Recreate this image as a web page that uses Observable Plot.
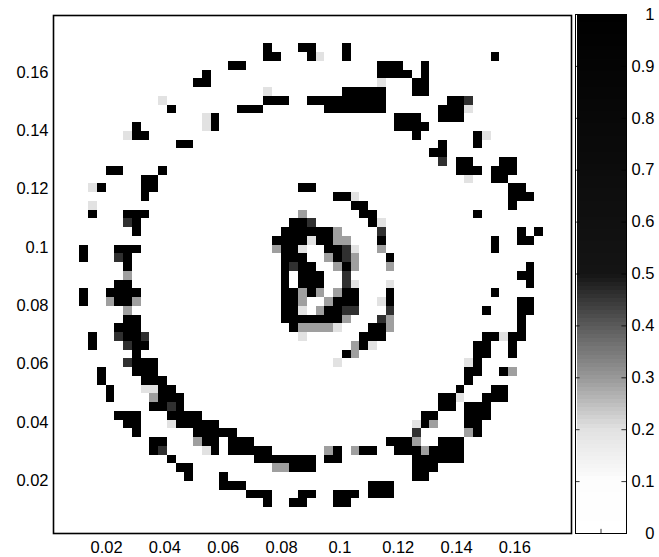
<!DOCTYPE html>
<html><head><meta charset="utf-8">
<script src="https://cdn.jsdelivr.net/npm/d3@7"></script>
<script src="https://cdn.jsdelivr.net/npm/@observablehq/plot@0.6"></script>
<style>
html,body{margin:0;padding:0;background:#fff}
#wrap{position:relative;width:659px;height:557px;overflow:hidden}
#wrap>div{position:absolute;top:0}
svg{display:block}
</style></head><body><div id="wrap"><div id="main" style="left:0"></div><div id="bar" style="left:560px"></div></div>
<script>
const cellSize = 0.003, originValue = 0.0018, gridRows = 59;
const xTicks = [0.02,0.04,0.06,0.08,0.1,0.12,0.14,0.16];
const yTicks = [0.02,0.04,0.06,0.08,0.1,0.12,0.14,0.16];
const barTicks = [0,0.1,0.2,0.3,0.4,0.5,0.6,0.7,0.8,0.9,1];
const barBottomTicks = [0.5];
const levelStops = [0,0.1,0.2,0.3,0.4,0.5,1];
const levelGreys = ["#ffffff","#fdfdfd","#e2e2e2","#989898","#5a5a5a","#141414","#000000"];
const barSteps = d3.range(0,128);
// runs of cells: [row from top, first column, last column]
const blackRuns = [[3,24,24],[4,24,25],[3,28,29],[4,29,29],[3,33,33],[4,33,33],[5,20,21],[6,17,17],[7,16,17],[10,13,13],[9,24,26],[10,21,23],[9,29,37],[8,33,37],[10,31,37],[11,18,18],[12,18,18],[12,9,9],[13,9,10],[14,14,15],[17,6,7],[17,12,12],[18,10,11],[19,10,11],[20,10,10],[19,5,5],[22,4,4],[22,8,10],[23,9,9],[24,9,9],[26,3,3],[27,3,3],[26,7,9],[27,8,8],[28,8,8],[19,28,29],
[23,27,28],[24,26,31],[25,25,28],[25,30,31],[26,26,27],[26,31,32],[27,26,28],[27,32,32],[28,26,26],[28,28,29],[28,33,33],[29,26,26],[29,28,30],[30,26,26],[30,28,30],[31,26,27],[31,29,29],[31,33,34],[32,26,27],[32,32,34],[33,26,27],[33,31,32],[34,26,32],[35,27,27],
[20,32,33],[21,34,35],[22,35,36],[23,36,36],[25,37,37],[27,38,38],[31,38,38],[32,38,38],[35,36,37],[36,35,37],[37,35,35],[38,33,33],
[4,50,50],[5,37,39],[6,37,40],[5,42,42],[6,42,42],[7,41,42],[8,41,42],[9,45,46],[10,44,46],[11,44,46],[11,39,41],[12,39,42],[13,41,41],[14,44,44],[15,43,44],[13,48,48],[14,48,48],[16,46,47],[17,46,48],[16,51,52],[17,50,52],[18,50,51],[19,52,53],[20,52,54],[21,52,52],[22,48,48],[24,53,53],[24,55,55],[25,53,54],[25,50,50],[26,50,50],[28,54,54],[29,53,54],[30,54,54],[31,50,50],[32,53,54],[33,53,54],[34,53,53],[35,53,53],[33,49,49],[36,49,50],[36,52,53],[37,52,52],[38,52,52],[37,48,49],[38,48,49],[39,48,48],[40,47,48],[41,47,47],[40,51,51],[42,46,46],[42,50,51],[43,49,51],[43,44,45],[44,44,45],[44,47,49],[45,47,49],[46,47,48],[47,48,48],[45,42,43],[46,42,42],[48,38,40],[49,39,41],[48,44,46],[49,43,46],[50,41,46],[51,41,43],[52,41,42],[49,32,32],[50,31,32],[49,35,36],[50,28,29],[51,28,29],[53,36,38],[54,36,38],[54,32,34],[55,32,33],[54,28,29],[55,28,28],
[30,7,8],[31,6,9],[32,7,8],[31,3,3],[32,3,3],[34,8,9],[35,7,9],[36,8,9],[36,4,4],[37,4,4],[37,9,10],[38,9,9],[39,9,11],[40,9,11],[40,5,5],[41,5,5],[41,10,12],[42,12,13],[42,6,6],[43,6,6],[43,12,14],[44,11,12],[44,14,14],[45,13,16],[46,14,18],[47,16,20],[48,17,18],[48,20,22],[49,18,18],[49,20,24],[50,23,29],[51,27,29],[45,7,9],[46,8,9],[47,9,9],[48,11,12],[49,11,11],[50,13,13],[51,14,15],[52,15,15],[52,19,19],[53,19,21],[54,22,24],[55,24,24],[54,28,29],[55,27,28]];
const darkRuns = [[23,8,8],[27,7,7],[9,47,47],[16,44,44],[23,29,29],[26,33,33],[27,33,33],[28,27,27],[24,37,37],[29,33,33],[30,33,33],[33,33,34],[33,38,38],[34,37,37],[36,7,7],[36,10,10],[37,8,8],[39,8,8],[44,13,13],[47,41,41],[49,12,12]];
const greyRuns = [[29,8,8],[33,8,8],[32,6,6],[32,9,9],[22,28,28],[24,32,32],[25,32,33],[27,31,31],[27,34,34],[28,32,32],[28,34,34],[26,37,37],[28,38,38],[31,28,28],[32,28,28],[31,30,30],[31,32,32],[32,31,31],[33,30,30],[34,33,33],[35,28,31],[34,38,38],[35,38,38],[37,34,34],[38,34,34],[40,52,52],[46,43,43],[47,47,47],[48,41,41],[49,42,42],[49,31,31],[49,34,34],[43,11,11],[48,16,16],[51,25,26],[26,25,25]];
const lightRuns = [[4,30,30],[9,12,12],[8,24,24],[11,17,17],[12,17,17],[13,8,8],[19,4,4],[21,4,4],[7,37,37],[10,47,47],[13,49,49],[18,47,47],[20,34,34],[23,37,37],[25,29,29],[26,28,28],[26,34,34],[33,28,28],[30,34,34],[36,28,28],[35,32,32],[30,38,38],[32,37,37],[37,36,36],[39,32,32],[36,51,51],[39,47,47],[46,41,41],[43,46,46],[42,10,10],[42,11,11],[45,15,15],[46,13,13],[49,17,17]];
const cellLevels = [[blackRuns,1],[darkRuns,0.46],[greyRuns,0.29],[lightRuns,0.2]];

const cells = cellLevels.flatMap(([runs,v]) => runs.map(([r,a,b]) => ({
  x1: originValue + a*cellSize, x2: originValue + (b+1)*cellSize,
  y2: originValue + (gridRows-r)*cellSize, y1: originValue + (gridRows-r-1)*cellSize, v})));
cells.sort((p,q)=>p.v-q.v);

const colorScale = {type:"linear", domain: levelStops, range: levelGreys, interpolate:"rgb"};
const font = "'Liberation Sans', Arial, sans-serif";

document.getElementById("main").append(Plot.plot({
  width: 573, height: 557, marginLeft: 53, marginRight: 2, marginTop: 15, marginBottom: 24,
  style:{fontFamily:font, fontSize:"16.5px", background:"#fff", color:"#000"},
  x:{domain:[originValue, 0.1794], ticks:xTicks, tickFormat:String, label:null},
  y:{domain:[0.00195, 0.1795], ticks:yTicks, tickFormat:String, label:null},
  color:colorScale,
  marks:[
    Plot.rect(cells,{x1:"x1",x2:"x2",y1:"y1",y2:"y2",fill:"v",shapeRendering:"crispEdges"}),
    Plot.frame({stroke:"#000",strokeWidth:1.6}),
    Plot.axisX({ticks:xTicks,tickFormat:String,tickSize:0,tickPadding:8,fontSize:16.5,label:null}),
    Plot.axisY({ticks:yTicks,tickFormat:String,tickSize:0,tickPadding:5,fontSize:16.5,label:null})
  ]
}));

document.getElementById("bar").append(Plot.plot({
  width: 99, height: 557, marginLeft: 15, marginRight: 33, marginTop: 14, marginBottom: 24,
  style:{fontFamily:font, fontSize:"16.5px", background:"transparent", color:"#000"},
  x:{domain:[0,1],axis:null},
  y:{domain:[0,1],label:null,ticks:barTicks,tickFormat:String},
  color:colorScale,
  marks:[
    Plot.rect(barSteps,{x1:()=>0.04,x2:()=>1,y1:d=>d/128,y2:d=>(d+1)/128,fill:d=>(d+0.5)/128,shapeRendering:"crispEdges"}),
    Plot.ruleY(barTicks,{y:d=>d,x1:()=>0,x2:()=>0.09,stroke:"#000",strokeWidth:0.8}),
    Plot.ruleY(barTicks,{y:d=>d,x1:()=>0.91,x2:()=>1,stroke:"#000",strokeWidth:0.8}),
    Plot.ruleX(barBottomTicks,{x:d=>d,y1:()=>0,y2:()=>0.008,stroke:"#000",strokeWidth:0.8}),
    Plot.frame({stroke:"#000",strokeWidth:1}),
    Plot.axisY({anchor:"right",ticks:barTicks,tickFormat:String,tickSize:0,tickPadding:28,textAnchor:"end",fontSize:16.5,label:null})
  ]
}));
</script></body></html>
